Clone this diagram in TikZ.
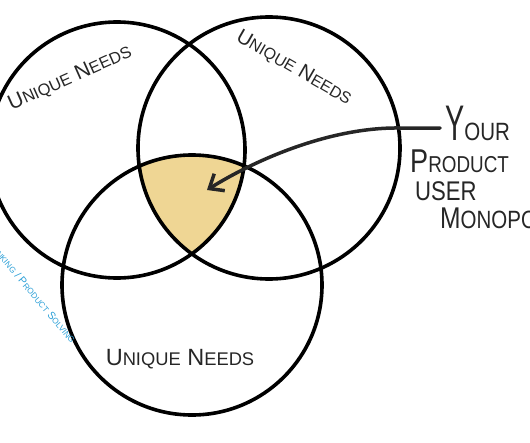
\documentclass[tikz,border=0pt]{standalone}
\usepackage{fontspec}
\setmainfont{Liberation Sans}
\usetikzlibrary{arrows.meta}
\definecolor{gold}{RGB}{239,214,148}
\definecolor{ink}{RGB}{38,38,38}
\definecolor{credblue}{RGB}{45,160,215}
\newcommand\lc[1]{\scalebox{0.78}{#1}}
\newcommand\nar[1]{\scalebox{0.82}[1]{#1}}
\begin{document}
\begin{tikzpicture}[x=1pt,y=-1pt,
  circ/.style={line width=3.6pt,black},
  hand/.style={text=ink,inner sep=0pt},
  cred/.style={text=credblue,inner sep=0pt,font=\fontsize{10.5}{10.5}\selectfont}]
\useasboundingbox (0,0) rectangle (530,442);
\clip (0,0) rectangle (530,442);
\coordinate (A) at (117,150);
\coordinate (B) at (269,148);
\coordinate (C) at (192,285);
\begin{scope}
  \clip (A) circle (128pt);
  \clip (B) circle (131pt);
  \fill[gold] (C) circle (130pt);
\end{scope}
\draw[circ] (A) circle (128pt);
\draw[circ] (B) circle (131pt);
\draw[circ] (C) circle (130pt);
% labels
\node[hand,rotate=24,font=\fontsize{21}{21}\selectfont] (na) at (70,78) {U\lc{NIQUE} N\lc{EEDS}};
\node[hand,rotate=-30,font=\fontsize{20.5}{20.5}\selectfont] (nb) at (294,68) {U\lc{NIQUE} N\lc{EEDS}};
\node[hand,font=\fontsize{23.5}{23.5}\selectfont] (nc) at (180,359) {U\lc{NIQUE} N\lc{EEDS}};
% right text
\node[hand,anchor=base west] (your) at (445,140) {\nar{\scalebox{0.7}[1]{\fontsize{50}{50}\selectfont Y}\fontsize{25}{25}\selectfont OUR}};
\node[hand,anchor=base west] (product) at (410,172) {\nar{\fontsize{33}{33}\selectfont P\fontsize{23}{23}\selectfont RODUCT}};
\node[hand,anchor=base west] (user) at (415,200) {\nar{\fontsize{27}{27}\selectfont USER}};
\node[hand,anchor=base west] (mono) at (440,228) {\nar{\fontsize{30}{30}\selectfont M\fontsize{25}{25}\selectfont ONOPOLY}};
% arrow
\coordinate (start) at ([shift={(-5,-12)}]your.base west);
\coordinate (tip) at (207,190);
\draw[ink,line width=3.5pt,line cap=round,-{Straight Barb[length=12pt,width=20pt]}]
  (start) -- ++(-40,0) .. controls (330,127) and (255,160) .. (tip);
% credit
\node[cred,rotate=-50,anchor=base east] (credit) at (71,344) {T\lc{HINKING} / P\lc{RODUCT} S\lc{OLVING}};
\end{tikzpicture}
\end{document}
